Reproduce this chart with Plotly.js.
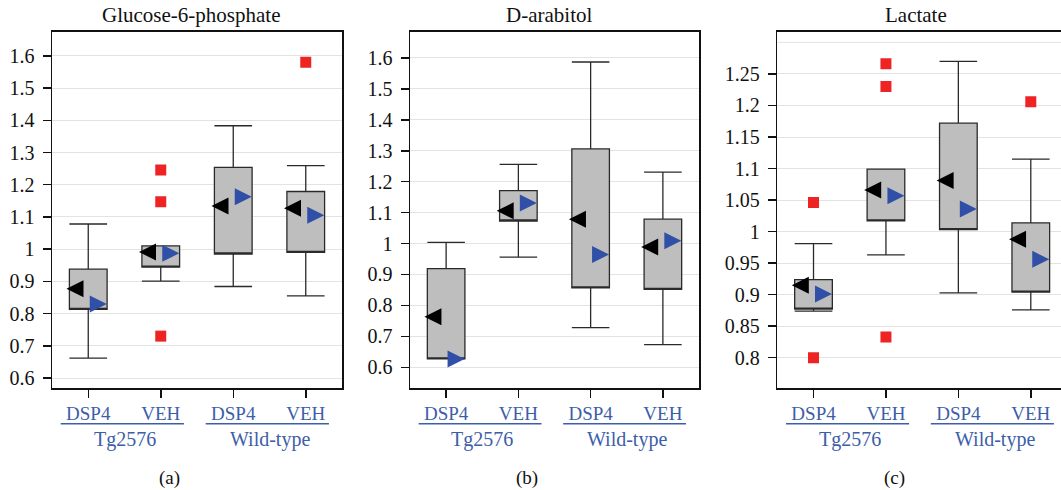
<!DOCTYPE html>
<html>
<head>
<meta charset="utf-8">
<script src="https://cdn.plot.ly/plotly-3.0.1.min.js"></script>
<style>
html,body{margin:0;padding:0;overflow:hidden;background:#fff;}
#chart{width:1067px;height:490px;}
</style>
</head>
<body>
<div id="chart"></div>
<script>
// ---- data ----
const categories = ["DSP4", "VEH", "DSP4", "VEH"];
const groups = ["Tg2576", "Wild-type"];
const panelTitles = ["Glucose-6-phosphate", "D-arabitol", "Lactate"];
const panelLetters = ["(a)", "(b)", "(c)"];
const positions = [0, 1, 2, 3];

// Glucose-6-phosphate
const g6pQ1 = [0.813, 0.944, 0.985, 0.990];
const g6pQ3 = [0.938, 1.010, 1.254, 1.179];
const g6pLow = [0.662, 0.901, 0.884, 0.855];
const g6pHigh = [1.078, 1.010, 1.383, 1.259];
const g6pBlack = [0.877, 0.991, 1.134, 1.127];
const g6pBlue = [0.830, 0.987, 1.163, 1.105];
const g6pOutX = [1, 1, 1, 3];
const g6pOutY = [1.246, 1.147, 0.730, 1.580];

// D-arabitol
const araQ1 = [0.627, 1.073, 0.857, 0.852];
const araQ3 = [0.919, 1.171, 1.306, 1.079];
const araLow = [0.627, 0.956, 0.728, 0.673];
const araHigh = [1.004, 1.256, 1.587, 1.231];
const araBlack = [0.763, 1.106, 1.079, 0.989];
const araBlue = [0.627, 1.131, 0.965, 1.009];
const araOutX = [];
const araOutY = [];

// Lactate
const lacQ1 = [0.877, 1.017, 1.003, 0.904];
const lacQ3 = [0.924, 1.099, 1.172, 1.014];
const lacLow = [0.874, 0.963, 0.903, 0.876];
const lacHigh = [0.981, 1.099, 1.270, 1.115];
const lacBlack = [0.915, 1.066, 1.081, 0.988];
const lacBlue = [0.901, 1.057, 1.036, 0.956];
const lacOutX = [0, 0, 1, 1, 1, 3];
const lacOutY = [1.046, 0.800, 1.266, 1.230, 0.833, 1.206];

const g6pTicks = [0.6, 0.7, 0.8, 0.9, 1, 1.1, 1.2, 1.3, 1.4, 1.5, 1.6];
const g6pTickText = ["0.6", "0.7", "0.8", "0.9", "1", "1.1", "1.2", "1.3", "1.4", "1.5", "1.6"];
const araTicks = [0.6, 0.7, 0.8, 0.9, 1, 1.1, 1.2, 1.3, 1.4, 1.5, 1.6];
const araTickText = ["0.6", "0.7", "0.8", "0.9", "1", "1.1", "1.2", "1.3", "1.4", "1.5", "1.6"];
const lacTicks = [0.8, 0.85, 0.9, 0.95, 1, 1.05, 1.1, 1.15, 1.2, 1.25];
const lacTickText = ["0.8", "0.85", "0.9", "0.95", "1", "1.05", "1.1", "1.15", "1.2", "1.25"];
const lacExtraGrid = [1.3];

// ---- build ----
const FONT = "Liberation Serif";
const BLUE_TXT = "#3d5ea9";
const panels = [
  {q1: g6pQ1, q3: g6pQ3, lo: g6pLow, hi: g6pHigh, black: g6pBlack, blue: g6pBlue, ox: g6pOutX, oy: g6pOutY,
   ticks: g6pTicks, tt: g6pTickText, range: [0.569, 1.675], dom: [52, 342], xr: [-0.5, 3.5]},
  {q1: araQ1, q3: araQ3, lo: araLow, hi: araHigh, black: araBlack, blue: araBlue, ox: araOutX, oy: araOutY,
   ticks: araTicks, tt: araTickText, range: [0.533, 1.685], dom: [410, 699], xr: [-0.5, 3.5]},
  {q1: lacQ1, q3: lacQ3, lo: lacLow, hi: lacHigh, black: lacBlack, blue: lacBlue, ox: lacOutX, oy: lacOutY,
   ticks: lacTicks, tt: lacTickText, range: [0.752, 1.317], dom: [777.3, 1067], xr: [-0.5, 3.5]}
];
const W = 1067, H = 490;
const yDom = [1 - 388 / H, 1 - 31.7 / H];

const traces = [];
const layout = {
  width: W, height: H,
  margin: {l: 0, r: 0, t: 0, b: 0},
  paper_bgcolor: "#fff", plot_bgcolor: "#fff",
  showlegend: false,
  font: {family: FONT, size: 19, color: "#111"},
  annotations: [], shapes: []
};

panels.forEach((p, i) => {
  const sfx = i === 0 ? "" : String(i + 1);
  const xa = "x" + sfx, ya = "y" + sfx;
  traces.push({
    type: "box", xaxis: xa, yaxis: ya,
    x: positions, q1: p.q1, median: p.q1, q3: p.q3,
    lowerfence: p.lo, upperfence: p.hi,
    width: 0.52, whiskerwidth: 1,
    fillcolor: "#bebebe", line: {color: "#2a2a2a", width: 1.3},
    boxpoints: false, hoverinfo: "skip"
  });
  traces.push({
    type: "scatter", mode: "markers", xaxis: xa, yaxis: ya,
    x: positions.map(v => v - 0.3), y: p.black,
    marker: {symbol: "arrow-left", size: 17, color: "#000"}, hoverinfo: "skip"
  });
  traces.push({
    type: "scatter", mode: "markers", xaxis: xa, yaxis: ya,
    x: positions.map(v => v + 0.255), y: p.blue,
    marker: {symbol: "arrow-right", size: 17, color: "#2f50a6"}, hoverinfo: "skip"
  });
  traces.push({
    type: "scatter", mode: "markers", xaxis: xa, yaxis: ya,
    x: p.ox, y: p.oy,
    marker: {symbol: "square", size: 11, color: "#ee2424"}, hoverinfo: "skip"
  });

  layout["xaxis" + sfx] = {
    domain: [p.dom[0] / W, p.dom[1] / W], anchor: ya, range: p.xr,
    tickvals: positions, ticktext: categories,
    tickfont: {family: FONT, size: 19, color: BLUE_TXT},
    showline: true, mirror: true, linecolor: "#111", linewidth: 1.5,
    ticks: "outside", ticklen: 8, tickwidth: 1.5, tickcolor: "#111",
    showgrid: false, zeroline: false, fixedrange: true
  };
  layout["yaxis" + sfx] = {
    domain: yDom, anchor: xa, range: p.range,
    tickvals: p.ticks, ticktext: p.tt,
    tickfont: {family: FONT, size: 20, color: "#111"},
    showline: true, mirror: true, linecolor: "#111", linewidth: 1.5,
    ticks: "outside", ticklen: 8, tickwidth: 1.5, tickcolor: "#111",
    ticklabelstandoff: 4,
    showgrid: true, gridcolor: "#e3e3e3", gridwidth: 1, zeroline: false, fixedrange: true
  };

  layout.annotations.push({
    text: panelTitles[i], xref: xa + " domain", yref: "paper", x: 0.5, y: 1 - 15 / H,
    xshift: -6, showarrow: false, xanchor: "center", yanchor: "middle",
    font: {family: FONT, size: 21, color: "#111"}
  });
  layout.annotations.push({
    text: panelLetters[i], xref: xa + " domain", yref: "paper", x: 0.5, y: 1 - 478 / H,
    xshift: -28, showarrow: false, xanchor: "center", yanchor: "middle",
    font: {family: FONT, size: 19, color: "#111"}
  });
  groups.forEach((g, k) => {
    const a = positions[2 * k], b = positions[2 * k + 1];
    layout.annotations.push({
      text: g, xref: xa, yref: "paper", x: (a + b) / 2, y: 1 - 439 / H,
      showarrow: false, xanchor: "center", yanchor: "middle",
      font: {family: FONT, size: 20, color: BLUE_TXT}
    });
    layout.shapes.push({
      type: "line", xref: xa, yref: "paper", x0: a - 0.38, x1: b + 0.32,
      y0: 1 - 423.7 / H, y1: 1 - 423.7 / H,
      line: {color: BLUE_TXT, width: 1.5}
    });
  });
});

lacExtraGrid.forEach(v => {
  layout.shapes.push({
    type: "line", xref: "x3 domain", yref: "y3", x0: 0, x1: 1, y0: v, y1: v,
    layer: "below", line: {color: "#e3e3e3", width: 1}
  });
});

Plotly.newPlot("chart", traces, layout, {staticPlot: true, displayModeBar: false});
</script>
</body>
</html>
